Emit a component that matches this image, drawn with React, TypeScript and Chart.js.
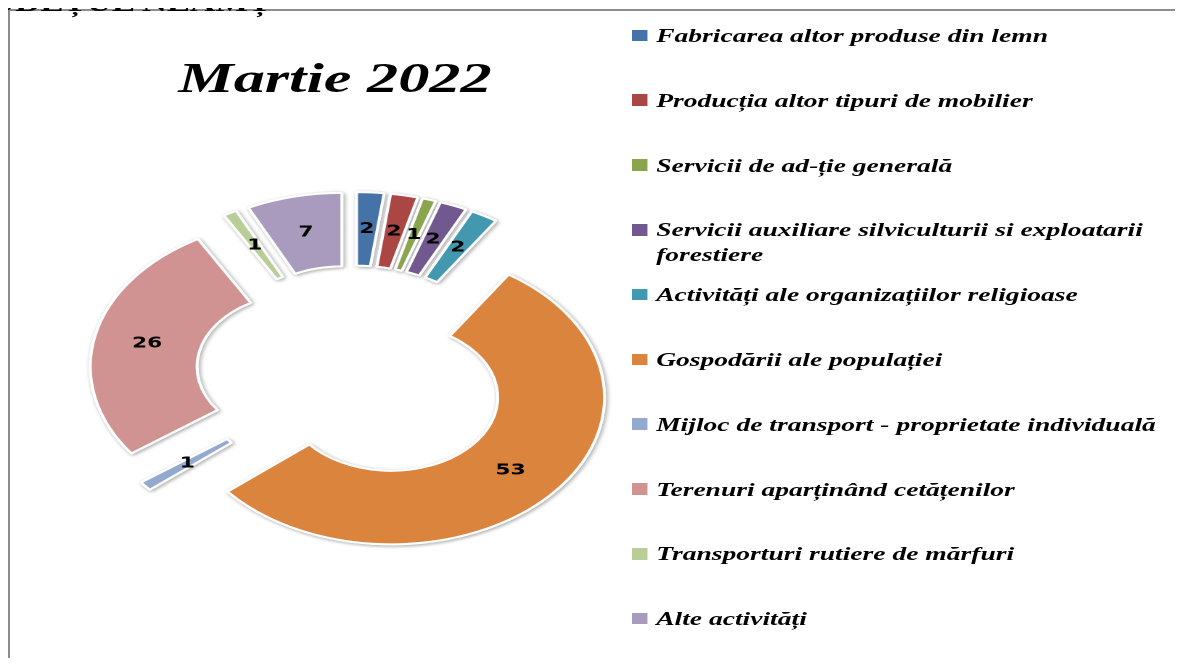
import React, { useEffect, useRef } from 'react';
import { Chart, ArcElement, DoughnutController } from 'chart.js';

Chart.register(ArcElement, DoughnutController);

const HEADER = 'JUDEȚUL NEAMȚ';
const TITLE = 'Martie 2022';

const categories = [
  'Fabricarea altor produse din lemn',
  'Producția altor tipuri de mobilier',
  'Servicii de ad-ție generală',
  'Servicii auxiliare silviculturii si exploatarii forestiere',
  'Activități ale organizațiilor religioase',
  'Gospodării ale populației',
  'Mijloc de transport - proprietate individuală',
  'Terenuri aparținând cetățenilor',
  'Transporturi rutiere de mărfuri',
  'Alte activități',
];

const values = [2, 2, 1, 2, 2, 53, 1, 26, 1, 7];

const colors = [
  '#4572A7',
  '#AA4643',
  '#89A54E',
  '#71588F',
  '#4198AF',
  '#DB843D',
  '#93A9CF',
  '#D19392',
  '#B9CD96',
  '#A99BBD',
];

// layout / style constants
const K = 1.45; // horizontal stretch of the whole picture
const W = 1174 / K;
const H = 650;
const CX = 238;
const CY = 366;
const RADIUS = 147;
const EXPLODE = 35;

const explodePlugin = {
  id: 'explodeDraw',
  beforeDatasetDraw(chart: any, args: any) {
    const ctx = chart.ctx as CanvasRenderingContext2D;
    const meta = args.meta;
    const drawAll = () => {
      meta.data.forEach((arc: any) => {
        const p = arc.getProps(['startAngle', 'endAngle']);
        const mid = (p.startAngle + p.endAngle) / 2;
        ctx.save();
        ctx.translate(Math.cos(mid) * EXPLODE, Math.sin(mid) * EXPLODE);
        arc.draw(ctx);
        ctx.restore();
      });
    };
    ctx.save();
    ctx.shadowColor = 'rgba(0,0,0,0.30)';
    ctx.shadowBlur = 7;
    ctx.shadowOffsetX = 2;
    ctx.shadowOffsetY = 2;
    drawAll();
    ctx.restore();
    ctx.save();
    drawAll();
    ctx.restore();

    const data = chart.data.datasets[args.index].data;
    ctx.save();
    ctx.font = 'bold 15px "DejaVu Sans"';
    ctx.fillStyle = '#000';
    ctx.textAlign = 'center';
    ctx.textBaseline = 'middle';
    meta.data.forEach((arc: any, i: number) => {
      const p = arc.getProps(['x', 'y', 'startAngle', 'endAngle', 'innerRadius', 'outerRadius']);
      const mid = (p.startAngle + p.endAngle) / 2;
      const rr = (p.innerRadius + p.outerRadius) / 2 + EXPLODE;
      ctx.fillText(String(data[i]), p.x + Math.cos(mid) * rr, p.y + Math.sin(mid) * rr);
    });
    ctx.restore();
    return false;
  },
};

export default function App() {
  const canvasRef = useRef<HTMLCanvasElement | null>(null);

  useEffect(() => {
    if (!canvasRef.current) return;
    const chart = new Chart(canvasRef.current, {
      type: 'doughnut',
      data: {
        labels: categories,
        datasets: [
          {
            data: values,
            backgroundColor: colors,
            borderColor: '#ffffff',
            borderWidth: 2,
          },
        ],
      },
      options: {
        responsive: true,
        maintainAspectRatio: false,
        animation: false,
        devicePixelRatio: 2,
        events: [],
        radius: RADIUS,
        cutout: '50%',
        layout: {
          padding: { left: 0, right: W - 2 * CX, top: 2 * CY - H, bottom: 0 },
        },
        plugins: {
          legend: { display: false },
          tooltip: { enabled: false },
        },
      } as any,
      plugins: [explodePlugin as any],
    });
    return () => chart.destroy();
  }, []);

  const serif = '"Liberation Serif", "Times New Roman", serif';

  return (
    <div style={{ position: 'relative', height: H }}>
      <div
        style={{
          position: 'absolute',
          left: 0,
          top: 1,
          width: 1174,
          height: 656,
          boxSizing: 'border-box',
          borderTop: '2px solid #8c8c8c',
          borderLeft: '2px solid #8c8c8c',
          borderRight: '2px solid #8c8c8c',
          borderBottom: 'none',
        }}
      />
      <div
        style={{
          position: 'absolute',
          left: 0,
          top: 0,
          width: W,
          height: H,
          transform: `scaleX(${K})`,
          transformOrigin: '0 0',
        }}
      >
        <div
          style={{
            position: 'absolute',
            left: -24.5,
            top: -17,
            fontFamily: serif,
            fontWeight: 'bold',
            fontSize: 24,
            lineHeight: '24px',
            whiteSpace: 'nowrap',
            color: '#000',
          }}
        >
          {HEADER}
        </div>
        <div style={{ position: 'absolute', left: 0, top: 0, width: W, height: H }}>
          <canvas ref={canvasRef} />
        </div>
        <div
          style={{
            position: 'absolute',
            left: 0,
            top: 44,
            width: 451,
            textAlign: 'center',
            fontFamily: serif,
            fontStyle: 'italic',
            fontWeight: 'bold',
            fontSize: 43,
            lineHeight: '52px',
            color: '#000',
            whiteSpace: 'nowrap',
          }}
        >
          {TITLE}
        </div>
        <div style={{ position: 'absolute', left: 429.7, top: 15 }}>
          {categories.map((c, i) => (
            <div key={c} style={{ height: 64.8, display: 'flex', alignItems: 'flex-start' }}>
              <div
                style={{
                  width: 11,
                  height: 11.7,
                  marginTop: 6.6,
                  background: colors[i],
                  flex: '0 0 auto',
                }}
              />
              <div
                style={{
                  marginLeft: 6.3,
                  width: 362,
                  fontFamily: serif,
                  fontStyle: 'italic',
                  fontWeight: 'bold',
                  fontSize: 19,
                  lineHeight: '25px',
                  color: '#000',
                }}
              >
                {c}
              </div>
            </div>
          ))}
        </div>
      </div>
    </div>
  );
}
